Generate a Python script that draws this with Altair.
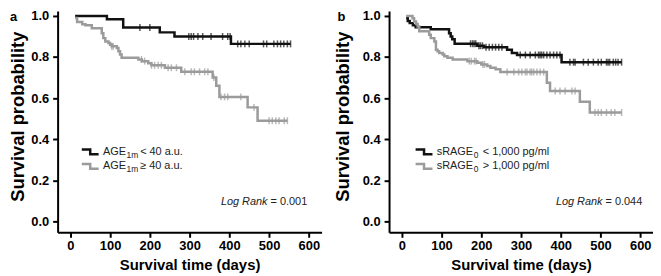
import altair as alt
import pandas as pd

# ---------------- data ----------------
# Panel a : AGE_1m groups (time in days, survival probability, step-after)
a_low_t = [12, 92, 133, 225, 262, 404, 554]
a_low_s = [1.0, 0.984, 0.944, 0.92, 0.90, 0.864, 0.864]
a_low_cens = [175, 200, 298, 304, 310, 321, 333, 354, 383, 396, 402, 421, 429,
              439, 450, 486, 494, 512, 521, 529, 537, 546, 554]

a_high_t = [12, 17, 30, 38, 54, 79, 83, 88, 96, 100, 104, 117, 121, 125, 129,
            171, 180, 196, 204, 238, 279, 358, 367, 375, 446, 471, 546]
a_high_s = [0.99, 0.97, 0.96, 0.955, 0.94, 0.916, 0.892, 0.876, 0.868, 0.86,
            0.852, 0.844, 0.828, 0.812, 0.796, 0.788, 0.78, 0.77, 0.76, 0.748,
            0.728, 0.70, 0.66, 0.606, 0.555, 0.49, 0.49]
a_high_cens = [104, 108, 179, 187, 204, 212, 221, 229, 246, 254, 267, 288, 304,
               312, 325, 338, 346, 361, 379, 388, 396, 429, 462, 500, 508, 517,
               525, 538, 546]

# Panel b : sRAGE_0 groups
b_low_t = [11, 15, 20, 28, 35, 73, 119, 123, 127, 133, 190, 207, 265, 277, 290,
           402, 553]
b_low_s = [0.99, 0.975, 0.965, 0.955, 0.945, 0.935, 0.916, 0.90, 0.887, 0.865,
           0.855, 0.848, 0.835, 0.82, 0.81, 0.775, 0.775]
b_low_cens = [173, 178, 182, 186, 194, 198, 203, 212, 220, 228, 236, 244, 252,
              298, 311, 323, 336, 344, 348, 352, 357, 365, 373, 382, 390, 398,
              423, 432, 436, 457, 469, 482, 494, 502, 515, 519, 523, 532, 538,
              544, 553]

b_high_t = [11, 27, 31, 36, 40, 44, 69, 73, 82, 86, 90, 94, 103, 107, 115, 128,
            165, 190, 200, 215, 223, 236, 248, 365, 373, 448, 473, 553]
b_high_s = [1.0, 0.989, 0.973, 0.961, 0.949, 0.925, 0.908, 0.892, 0.876, 0.836,
            0.828, 0.82, 0.812, 0.804, 0.796, 0.788, 0.78, 0.772, 0.764, 0.756,
            0.748, 0.74, 0.727, 0.675, 0.635, 0.582, 0.53, 0.53]
b_high_cens = [170, 175, 183, 187, 204, 208, 265, 282, 294, 302, 311, 315, 323,
               327, 332, 340, 348, 357, 386, 398, 411, 428, 436, 486, 494, 502,
               515, 527, 536, 553]

x_ticks = [0, 100, 200, 300, 400, 500, 600]
y_ticks = [0.0, 0.2, 0.4, 0.6, 0.8, 1.0]

a_legend = [("AGE", "1m", "< 40 a.u."), ("AGE", "1m", "\u2265 40 a.u.")]
b_legend = [("sRAGE", "0", "<  1,000 pg/ml"), ("sRAGE", "0", ">  1,000 pg/ml")]
a_logrank = "= 0.001"
b_logrank = "= 0.044"

# ---------------- styling ----------------
BLACK = "#111111"
GRAY = "#9b9b9b"
FONT = "Liberation Sans"
X_DOMAIN = [-32, 632]
Y_DOMAIN = [-0.053, 1.024]
PW, PH = 266, 223

one = pd.DataFrame({"k": [0]})


def step_value(ts, ss, x):
    v = ss[0]
    for ti, si in zip(ts, ss):
        if ti <= x:
            v = si
    return v


def panel(curves, letter, legend, logrank, leg_sym_x, leg_txt_x, sub_dx,
          rest_dx, lr_x, title_x, letter_x):
    xs = alt.Scale(domain=X_DOMAIN, nice=False, zero=False)
    ys = alt.Scale(domain=Y_DOMAIN, nice=False, zero=False)
    xax = alt.Axis(values=x_ticks, title="Survival time (days)", grid=False,
                   titleFontSize=15, titleFontWeight="bold", titleY=38,
                   titleBaseline="alphabetic", labelFontSize=13,
                   labelFontWeight="bold", tickSize=5, labelPadding=2)
    yax = alt.Axis(values=y_ticks, format=".1f", title="Survival probability",
                   grid=False, titleFontSize=18.5, titleFontWeight="bold",
                   titleX=title_x, titleY=106, titleAngle=270,
                   titleBaseline="middle", titleAlign="center",
                   labelFontSize=13, labelFontWeight="bold", tickSize=5,
                   labelPadding=4)
    layers = []
    first = True
    for ts, ss, cens, color in curves:
        df = pd.DataFrame({"t": ts, "s": ss})
        if first:
            xenc = alt.X("t:Q", scale=xs, axis=xax)
            yenc = alt.Y("s:Q", scale=ys, axis=yax)
            first = False
        else:
            xenc = alt.X("t:Q", scale=xs)
            yenc = alt.Y("s:Q", scale=ys)
        layers.append(alt.Chart(df).mark_line(
            interpolate="step-after", color=color, strokeWidth=2.5
        ).encode(x=xenc, y=yenc))
        cdf = pd.DataFrame({"t": cens,
                            "s": [step_value(ts, ss, c) for c in cens]})
        layers.append(alt.Chart(cdf).mark_tick(
            orient="vertical", color=color, size=7, thickness=1.5
        ).encode(x=alt.X("t:Q", scale=xs), y=alt.Y("s:Q", scale=ys)))

    legend_y = [0.338, 0.268]
    colors = [BLACK, GRAY]
    for (main, sub, rest), ly, col in zip(legend, legend_y, colors):
        layers.append(alt.Chart(one).mark_point(
            shape="M-1,-0.28H0V0.28H1", filled=False, size=289,
            strokeWidth=2.5, color=col, opacity=1
        ).encode(x=alt.XDatum(leg_sym_x, scale=xs),
                 y=alt.YDatum(ly, scale=ys)))
        layers.append(alt.Chart(one).mark_text(
            text=main, align="left", baseline="middle", fontSize=11,
            font=FONT, color="#222222"
        ).encode(x=alt.XDatum(leg_txt_x, scale=xs),
                 y=alt.YDatum(ly, scale=ys)))
        layers.append(alt.Chart(one).mark_text(
            text=sub, align="left", baseline="middle", fontSize=8.5,
            font=FONT, color="#222222", dx=sub_dx, dy=3
        ).encode(x=alt.XDatum(leg_txt_x, scale=xs),
                 y=alt.YDatum(ly, scale=ys)))
        layers.append(alt.Chart(one).mark_text(
            text=rest, align="left", baseline="middle", fontSize=11,
            font=FONT, color="#222222", dx=rest_dx
        ).encode(x=alt.XDatum(leg_txt_x, scale=xs),
                 y=alt.YDatum(ly, scale=ys)))

    lr_y = 0.0965
    layers.append(alt.Chart(one).mark_text(
        text=logrank, align="right", baseline="middle", fontSize=11,
        font=FONT, color="#222222"
    ).encode(x=alt.XDatum(lr_x, scale=xs), y=alt.YDatum(lr_y, scale=ys)))
    layers.append(alt.Chart(one).mark_text(
        text="Log  Rank", align="right", baseline="middle", fontSize=11,
        font=FONT, fontStyle="italic", color="#222222", dx=-40
    ).encode(x=alt.XDatum(lr_x, scale=xs), y=alt.YDatum(lr_y, scale=ys)))

    layers.append(alt.Chart(one).mark_text(
        text=letter, align="left", baseline="top", fontSize=13,
        fontWeight="bold", font=FONT, color="black"
    ).encode(x=alt.value(letter_x), y=alt.value(0)))

    return alt.layer(*layers).properties(width=PW, height=PH)


panel_a = panel(
    [(a_low_t, a_low_s, a_low_cens, BLACK), (a_high_t, a_high_s, a_high_cens, GRAY)],
    "a", a_legend, a_logrank, 50, 82, 23.7, 37.5, 596, -40, -48)
panel_b = panel(
    [(b_low_t, b_low_s, b_low_cens, BLACK), (b_high_t, b_high_s, b_high_cens, GRAY)],
    "b", b_legend, b_logrank, 56, 88, 37.2, 46.4, 605, -47, -52)

chart = alt.hconcat(panel_a, panel_b, spacing=11).properties(
    padding=0
).configure(font=FONT).configure_view(stroke=None).configure_axis(
    domainColor="black", domainWidth=2, tickColor="black", tickWidth=2,
    labelColor="black", titleColor="black", labelFont=FONT, titleFont=FONT
)

chart.save("out.html", embed_options={"renderer": "svg", "actions": False})
